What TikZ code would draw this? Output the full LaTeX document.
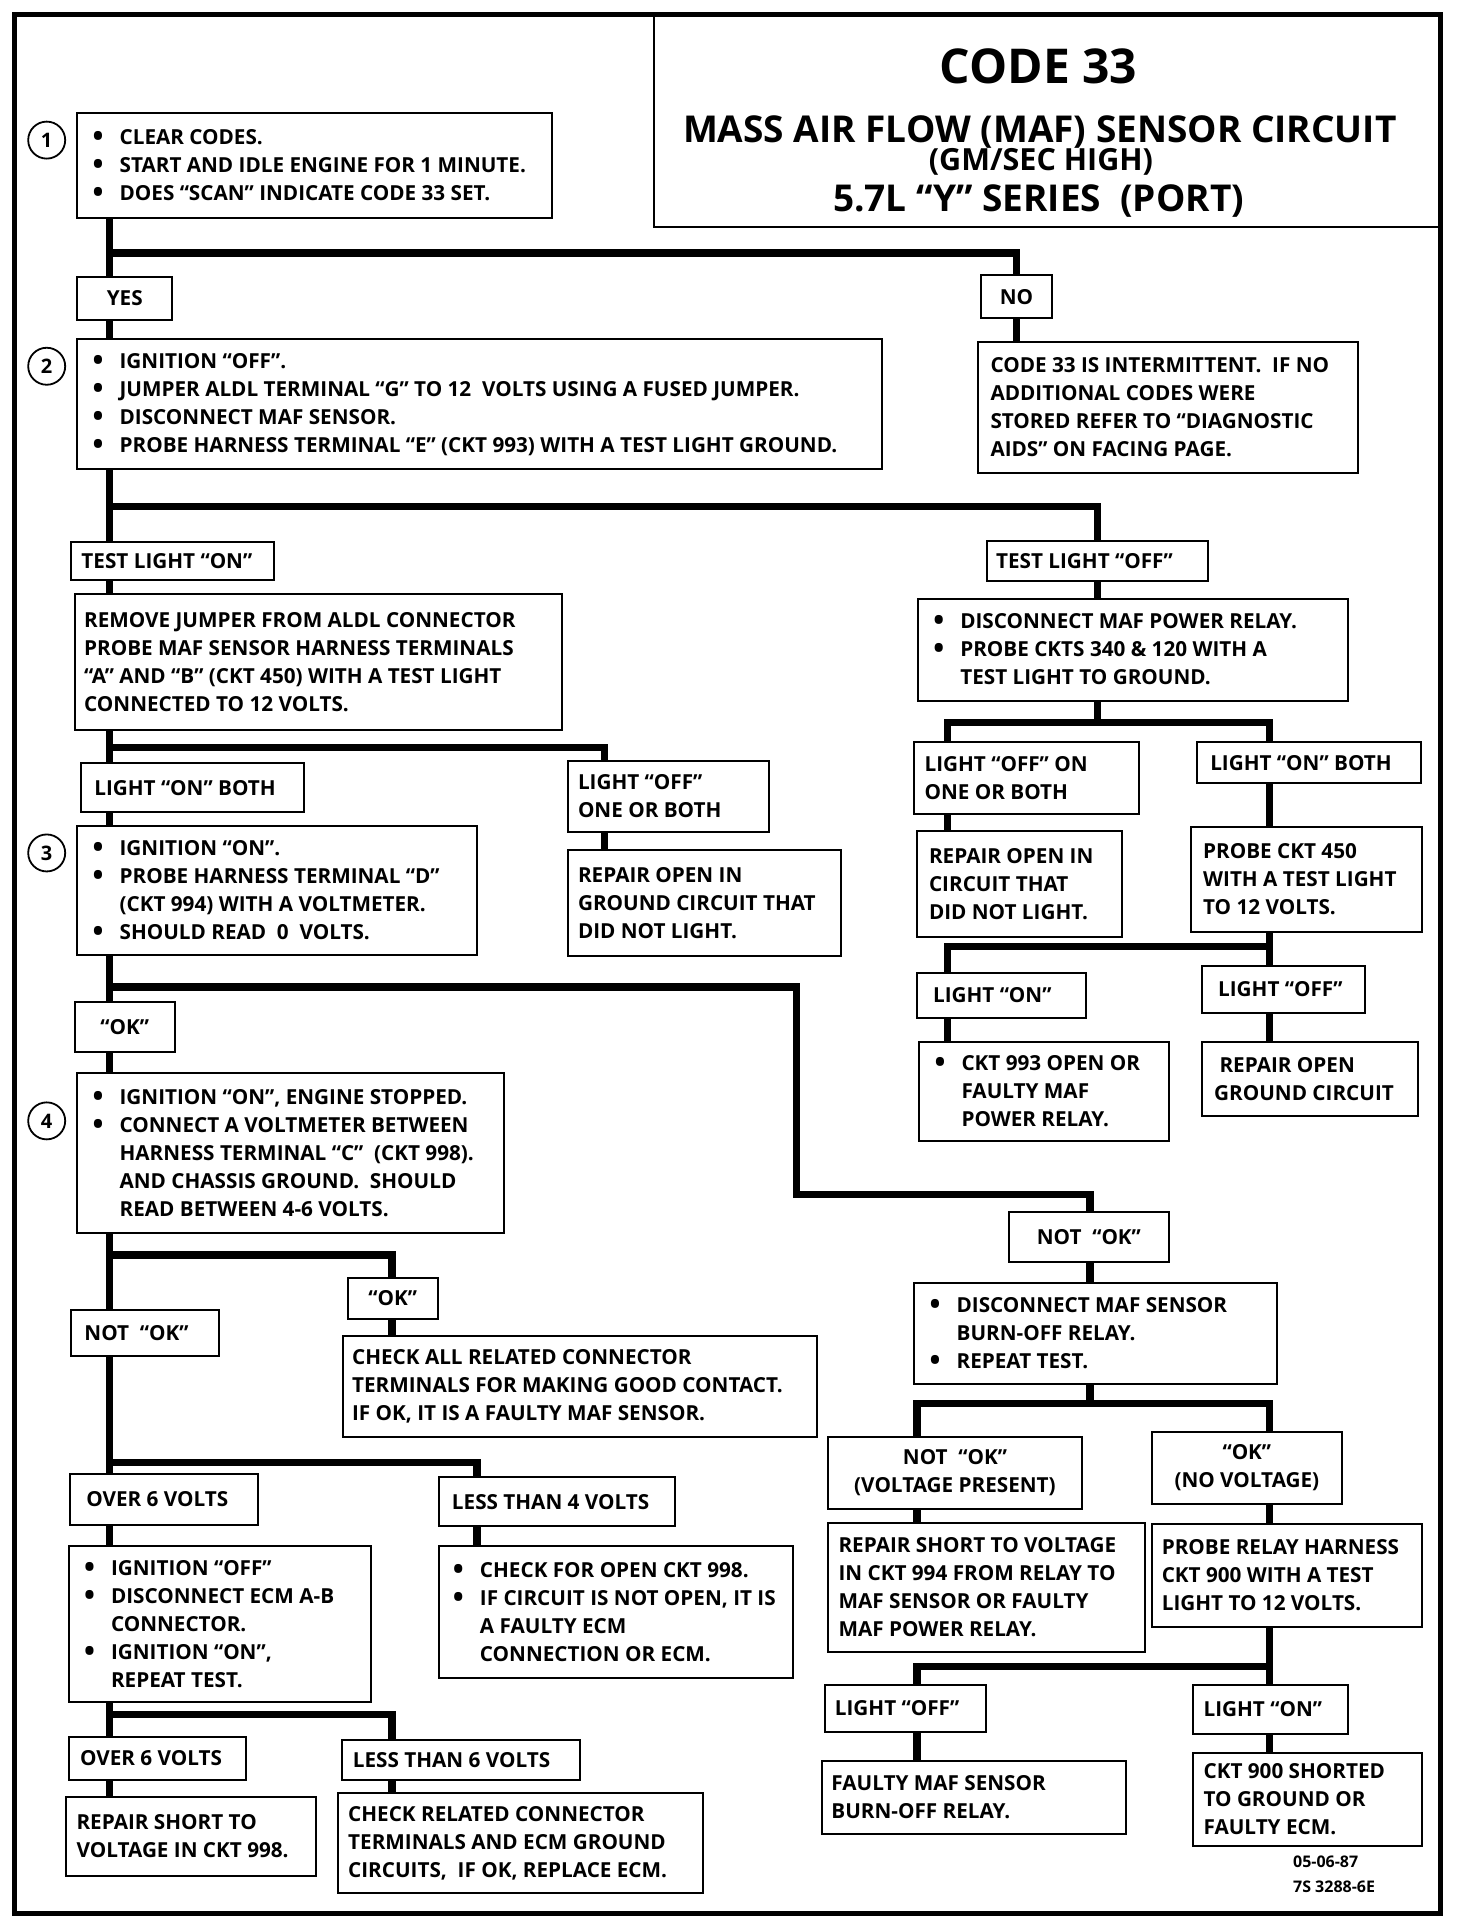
\documentclass[tikz,border=0pt]{standalone}
\usepackage{fontspec}
\usepackage{graphicx}
\setmainfont{Open Sans}
\usetikzlibrary{fit}
\newcommand{\bodyfont}{\fontsize{20.7bp}{28bp}\selectfont\bfseries}
\newcommand{\bul}{\makebox[27bp][l]{\smash{\raisebox{-2bp}{\scalebox{1.4}{\textbullet}}}}}
\newcommand{\ind}{\hspace*{27bp}}
\newcommand{\bx}[5]{\node[bxs, fit={(#2,#3) (#4,#5)}] (#1) {};}
\newcommand{\bxl}[7]{\bx{#1}{#2}{#3}{#4}{#5}\node[txl] (#1t) at ([xshift=#6]#1.west) {#7};}
\newcommand{\bxc}[6]{\bx{#1}{#2}{#3}{#4}{#5}\node[txc] (#1t) at (#1.center) {#6};}
\tikzset{
  bxs/.style={draw, line width=2bp, inner sep=0pt},
  txl/.style={font=\bodyfont, align=left, inner sep=0pt, anchor=west},
  txc/.style={font=\bodyfont, align=center, inner sep=0pt},
  conn/.style={line width=7.5bp, line join=miter},
  numc/.style={draw, circle, line width=1.8bp, minimum size=37bp, inner sep=0pt, font=\fontsize{20bp}{20bp}\selectfont\bfseries},
  ttl/.style={inner sep=0pt, anchor=base}
}
\begin{document}
\begin{tikzpicture}[x=1.229bp, y=-1.229bp]
\useasboundingbox (0,0) rectangle (1197.7,1567.1);
% frame and title
\node[draw, line width=5bp, inner sep=0pt, fit={(12,12) (1172,1557)}] (frame) {};
\node[draw, line width=2.2bp, inner sep=0pt, fit={(532,12) (1172,185)}] (title) {};
\node[ttl, font=\fontsize{48bp}{52bp}\selectfont\bfseries] (t1) at (845,68) {CODE 33};
\node[ttl, font=\fontsize{37bp}{40bp}\selectfont\bfseries] (t2) at (846,116) {MASS AIR FLOW (MAF) SENSOR CIRCUIT};
\node[ttl, font=\fontsize{30.5bp}{32bp}\selectfont\bfseries] (t3) at (847,139) {(GM/SEC HIGH)};
\node[ttl, font=\fontsize{37bp}{40bp}\selectfont\bfseries] (t4) at (845,172) {5.7L “Y” SERIES\ \ (PORT)};
% step numbers
\node[numc] (c1) at (38,114) {1};
\node[numc] (c2) at (38,298) {2};
\node[numc] (c3) at (38,694) {3};
\node[numc] (c4) at (38,912) {4};
% boxes
\bxl{b1}{63}{92}{449}{177}{16bp}{\bul CLEAR CODES.\\\bul START AND IDLE ENGINE FOR 1 MINUTE.\\\bul DOES “SCAN” INDICATE CODE 33 SET.}
\bxc{yes}{63}{225}{140}{260}{YES}
\bxc{no}{798}{224}{856}{259}{NO}
\bxl{nores}{796}{278}{1105}{385}{13bp}{CODE 33 IS INTERMITTENT.\ \ IF NO\\ADDITIONAL CODES WERE\\STORED REFER TO “DIAGNOSTIC\\AIDS” ON FACING PAGE.}
\bxl{b2}{63}{276}{718}{382}{16bp}{\bul IGNITION “OFF”.\\\bul JUMPER ALDL TERMINAL “G” TO 12\ \ VOLTS USING A FUSED JUMPER.\\\bul DISCONNECT MAF SENSOR.\\\bul PROBE HARNESS TERMINAL “E” (CKT 993) WITH A TEST LIGHT GROUND.}
\bxl{tlon}{58}{441}{223}{472}{11bp}{TEST LIGHT “ON”}
\bxl{tloff}{803}{440}{983}{473}{10bp}{TEST LIGHT “OFF”}
\bxl{rj}{61}{483}{457}{594}{10bp}{REMOVE JUMPER FROM ALDL CONNECTOR\\PROBE MAF SENSOR HARNESS TERMINALS\\“A” AND “B” (CKT 450) WITH A TEST LIGHT\\CONNECTED TO 12 VOLTS.}
\bxl{dmr}{747}{487}{1097}{570}{16bp}{\bul DISCONNECT MAF POWER RELAY.\\\bul PROBE CKTS 340 \& 120 WITH A\\\ind TEST LIGHT TO GROUND.}
\bxl{lonb}{66}{621}{247}{661}{14bp}{LIGHT “ON” BOTH}
\bxl{loob}{462}{619}{626}{677}{11bp}{LIGHT “OFF”\\ONE OR BOTH}
\bxl{rogc}{462}{692}{684}{778}{11bp}{REPAIR OPEN IN\\GROUND CIRCUIT THAT\\DID NOT LIGHT.}
\bxl{b3}{63}{672}{388}{777}{16bp}{\bul IGNITION “ON”.\\\bul PROBE HARNESS TERMINAL “D”\\\ind (CKT 994) WITH A VOLTMETER.\\\bul SHOULD READ\ \ 0\ \ VOLTS.}
\bxl{loobr}{744}{604}{927}{662}{11bp}{LIGHT “OFF” ON\\ONE OR BOTH}
\bxl{lonbr}{974}{604}{1156}{637}{14bp}{LIGHT “ON” BOTH}
\bxl{roc}{746}{676}{913}{762}{13bp}{REPAIR OPEN IN\\CIRCUIT THAT\\DID NOT LIGHT.}
\bxl{pcf}{969}{673}{1157}{758}{13bp}{PROBE CKT 450\\WITH A TEST LIGHT\\TO 12 VOLTS.}
\bxl{lon}{746}{792}{884}{828}{17bp}{LIGHT “ON”}
\bxl{loff}{978}{786}{1111}{824}{17bp}{LIGHT “OFF”}
\bxl{cto}{748}{848}{951}{928}{16bp}{\bul CKT 993 OPEN OR\\\ind FAULTY MAF\\\ind POWER RELAY.}
\bxl{rogr}{978}{848}{1154}{908}{13bp}{\ REPAIR OPEN\\GROUND CIRCUIT}
\bxc{ok1}{61}{815}{142}{856}{“OK”}
\bxl{b4}{63}{873}{410}{1003}{16bp}{\bul IGNITION “ON”, ENGINE STOPPED.\\\bul CONNECT A VOLTMETER BETWEEN\\\ind HARNESS TERMINAL “C”\ \ (CKT 998).\\\ind AND CHASSIS GROUND.\ \ SHOULD\\\ind READ BETWEEN 4-6 VOLTS.}
\bxc{nok1}{821}{986}{951}{1027}{NOT\ \ “OK”}
\bxl{dsr}{744}{1044}{1039}{1126}{16bp}{\bul DISCONNECT MAF SENSOR\\\ind BURN-OFF RELAY.\\\bul REPEAT TEST.}
\bxc{nokvp}{674}{1169}{880}{1228}{NOT\ \ “OK”\\(VOLTAGE PRESENT)}
\bxc{oknv}{937}{1165}{1092}{1224}{“OK”\\(NO VOLTAGE)}
\bxl{rsv}{674}{1239}{932}{1344}{11bp}{REPAIR SHORT TO VOLTAGE\\IN CKT 994 FROM RELAY TO\\MAF SENSOR OR FAULTY\\MAF POWER RELAY.}
\bxl{prh}{937}{1240}{1157}{1324}{11bp}{PROBE RELAY HARNESS\\CKT 900 WITH A TEST\\LIGHT TO 12 VOLTS.}
\bxl{loff2}{671}{1371}{802}{1409}{11bp}{LIGHT “OFF”}
\bxl{lon2}{971}{1371}{1097}{1411}{11bp}{LIGHT “ON”}
\bxl{fmaf}{669}{1433}{916}{1492}{10bp}{FAULTY MAF SENSOR\\BURN-OFF RELAY.}
\bxl{cnine}{971}{1426}{1157}{1502}{11bp}{CKT 900 SHORTED\\TO GROUND OR\\FAULTY ECM.}
\node[txl, font=\fontsize{16bp}{25bp}\selectfont\bfseries, anchor=north west] (date) at (1052,1510) {05-06-87\\7S 3288-6E};
\bxc{ok2}{283}{1040}{356}{1073}{“OK”}
\bxl{nok2}{58}{1066}{178}{1103}{14bp}{NOT\ \ “OK”}
\bxl{carc}{279}{1087}{665}{1169}{10bp}{CHECK ALL RELATED CONNECTOR\\TERMINALS FOR MAKING GOOD CONTACT.\\IF OK, IT IS A FAULTY MAF SENSOR.}
\bxl{ovs}{57}{1199}{210}{1241}{17bp}{OVER 6 VOLTS}
\bxl{ltf}{357}{1202}{549}{1242}{14bp}{LESS THAN 4 VOLTS}
\bxl{ign}{56}{1258}{302}{1385}{16bp}{\bul IGNITION “OFF”\\\bul DISCONNECT ECM A-B\\\ind CONNECTOR.\\\bul IGNITION “ON”,\\\ind REPEAT TEST.}
\bxl{cfo}{357}{1258}{645}{1365}{15bp}{\bul CHECK FOR OPEN CKT 998.\\\bul IF CIRCUIT IS NOT OPEN, IT IS\\\ind A FAULTY ECM\\\ind CONNECTION OR ECM.}
\bxl{ovs2}{56}{1413}{200}{1448}{12bp}{OVER 6 VOLTS}
\bxl{lts}{278}{1416}{472}{1448}{12bp}{LESS THAN 6 VOLTS}
\bxl{rsn}{54}{1462}{257}{1526}{11bp}{REPAIR SHORT TO\\VOLTAGE IN CKT 998.}
\bxl{crc}{275}{1459}{572}{1540}{11bp}{CHECK RELATED CONNECTOR\\TERMINALS AND ECM GROUND\\CIRCUITS,\ \ IF OK, REPLACE ECM.}
% branch x positions and junctions
\coordinate (X0) at (89,0);
\coordinate (X1) at (492,0);
\coordinate (XR) at (893,0);
\coordinate (XA) at (771,0);
\coordinate (XB) at (1033,0);
\coordinate (XC) at (887,0);
\coordinate (XD) at (746,0);
\coordinate (XF) at (319,0);
\coordinate (XG) at (388,0);
\coordinate (j1) at (89,206);
\coordinate (j2) at (89,412);
\coordinate (j3) at (89,608);
\coordinate (j4) at (893,588);
\coordinate (j5) at (1033,770);
\coordinate (j6) at (89,803);
\coordinate (j7) at (887,1142);
\coordinate (j8) at (1033,1356);
\coordinate (j9) at (89,1021);
\coordinate (j10) at (89,1190);
\coordinate (j11) at (89,1395);
% connectors
\draw[conn] (b1.south -| X0) -- (yes.north -| X0);
\draw[conn] (j1) -| (no.north);
\draw[conn] (yes.south -| X0) -- (b2.north -| X0);
\draw[conn] (no.south) -- (nores.north -| no.south);
\draw[conn] (b2.south -| X0) -- (tlon.north -| X0);
\draw[conn] (j2) -| (tloff.north);
\draw[conn] (tlon.south -| X0) -- (rj.north -| X0);
\draw[conn] (tloff.south) -- (dmr.north -| tloff.south);
\draw[conn] (rj.south -| X0) -- (lonb.north -| X0);
\draw[conn] (j3) -- (j3 -| X1) -- (loob.north -| X1);
\draw[conn] (lonb.south -| X0) -- (b3.north -| X0);
\draw[conn] (loob.south -| X1) -- (rogc.north -| X1);
\draw[conn] (dmr.south -| XR) -- (j4);
\draw[conn] (loobr.north -| XA) -- (j4 -| XA) -- (j4 -| XB) -- (lonbr.north -| XB);
\draw[conn] (loobr.south -| XA) -- (roc.north -| XA);
\draw[conn] (lonbr.south -| XB) -- (pcf.north -| XB);
\draw[conn] (pcf.south -| XB) -- (loff.north -| XB);
\draw[conn] (j5) -- (j5 -| XA) -- (lon.north -| XA);
\draw[conn] (lon.south -| XA) -- (cto.north -| XA);
\draw[conn] (loff.south -| XB) -- (rogr.north -| XB);
\draw[conn] (b3.south -| X0) -- (ok1.north -| X0);
\draw[conn] (j6) -- (648,803) -- (648,972) -- (887,972) -- (nok1.north -| XC);
\draw[conn] (ok1.south -| X0) -- (b4.north -| X0);
\draw[conn] (nok1.south -| XC) -- (dsr.north -| XC);
\draw[conn] (dsr.south -| XC) -- (j7);
\draw[conn] (nokvp.north -| XD) -- (j7 -| XD) -- (j7 -| XB) -- (oknv.north -| XB);
\draw[conn] (nokvp.south -| XD) -- (rsv.north -| XD);
\draw[conn] (oknv.south -| XB) -- (prh.north -| XB);
\draw[conn] (prh.south -| XB) -- (lon2.north -| XB);
\draw[conn] (j8) -- (j8 -| XD) -- (loff2.north -| XD);
\draw[conn] (loff2.south -| XD) -- (fmaf.north -| XD);
\draw[conn] (lon2.south -| XB) -- (cnine.north -| XB);
\draw[conn] (b4.south -| X0) -- (nok2.north -| X0);
\draw[conn] (j9) -- (j9 -| XF) -- (ok2.north -| XF);
\draw[conn] (ok2.south -| XF) -- (carc.north -| XF);
\draw[conn] (nok2.south -| X0) -- (ovs.north -| X0);
\draw[conn] (j10) -- (j10 -| XG) -- (ltf.north -| XG);
\draw[conn] (ovs.south -| X0) -- (ign.north -| X0);
\draw[conn] (ltf.south -| XG) -- (cfo.north -| XG);
\draw[conn] (ign.south -| X0) -- (ovs2.north -| X0);
\draw[conn] (j11) -- (j11 -| XF) -- (lts.north -| XF);
\draw[conn] (ovs2.south -| X0) -- (rsn.north -| X0);
\draw[conn] (lts.south -| XF) -- (crc.north -| XF);
\end{tikzpicture}
\end{document}
